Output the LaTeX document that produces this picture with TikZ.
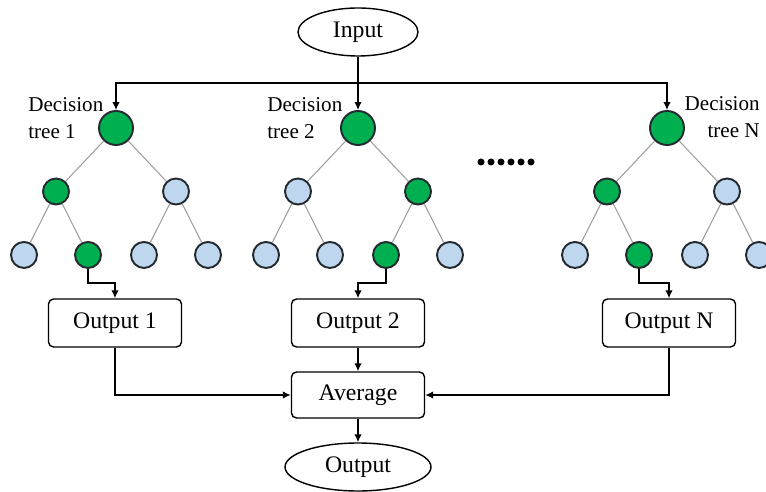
\documentclass[tikz,border=0pt]{standalone}
\usepackage{fontspec}
\setmainfont{Liberation Serif}
\usepackage{tikz}
\usetikzlibrary{shapes,arrows,positioning,shapes.geometric,arrows.meta}
\definecolor{treegreen}{RGB}{0,176,80}
\definecolor{treeblue}{RGB}{190,214,238}
\definecolor{rimgray}{RGB}{35,42,48}

\begin{document}
\begin{tikzpicture}[x=0.02cm, y=-0.02cm, node distance=1.27cm, font=\fontsize{13.5}{16}\selectfont]
    \tikzstyle{root} = [circle, draw=rimgray, line width=1.1pt, fill=treegreen, minimum size=0.68cm, inner sep=0pt]
    \tikzstyle{gnode} = [circle, draw=rimgray, line width=1.1pt, fill=treegreen, minimum size=0.52cm, inner sep=0pt]
    \tikzstyle{bnode} = [circle, draw=rimgray, line width=1.1pt, fill=treeblue, minimum size=0.52cm, inner sep=0pt]
    \tikzstyle{box} = [rectangle, draw, line width=0.8pt, rounded corners=0.1cm, minimum width=2.66cm, minimum height=0.96cm]
    \tikzstyle{io} = [ellipse, draw, line width=0.8pt, minimum height=0.96cm]
    \tikzstyle{tag} = [font=\fontsize{12}{15.4}\selectfont, inner sep=0pt]
    \tikzstyle{edge} = [draw, gray!75, line width=0.6pt]
    \tikzstyle{line} = [draw, line width=0.8pt, -{Latex[length=0.16cm, width=0.15cm]}]

    \useasboundingbox (0,0) rectangle (766,492);

    % Input
    \node [io, minimum width=2.4cm] (input) at (358,32) {Input};

    % Decision tree 1
    \node [root] (r1) at (116,128) {};
    \node [gnode, below of=r1, xshift=-1.2cm] (c11) {};
    \node [bnode, below of=r1, xshift=1.2cm] (c12) {};
    \node [bnode, below of=c11, xshift=-0.64cm] (l11) {};
    \node [gnode, below of=c11, xshift=0.64cm] (l12) {};
    \node [bnode, below of=c12, xshift=-0.64cm] (l13) {};
    \node [bnode, below of=c12, xshift=0.64cm] (l14) {};
    \node [tag, anchor=west, align=left] (tag1) at (28,118) {Decision\\tree 1};

    % Decision tree 2
    \node [root] (r2) at (358,128) {};
    \node [bnode, below of=r2, xshift=-1.2cm] (c21) {};
    \node [gnode, below of=r2, xshift=1.2cm] (c22) {};
    \node [bnode, below of=c21, xshift=-0.64cm] (l21) {};
    \node [bnode, below of=c21, xshift=0.64cm] (l22) {};
    \node [gnode, below of=c22, xshift=-0.64cm] (l23) {};
    \node [bnode, below of=c22, xshift=0.64cm] (l24) {};
    \node [tag, anchor=west, align=left] (tag2) at (267,118) {Decision\\tree 2};

    % Decision tree N
    \node [root] (rN) at (667,128) {};
    \node [gnode, below of=rN, xshift=-1.2cm] (cN1) {};
    \node [bnode, below of=rN, xshift=1.2cm] (cN2) {};
    \node [bnode, below of=cN1, xshift=-0.64cm] (lN1) {};
    \node [gnode, below of=cN1, xshift=0.64cm] (lN2) {};
    \node [bnode, below of=cN2, xshift=-0.64cm] (lN3) {};
    \node [bnode, below of=cN2, xshift=0.64cm] (lN4) {};
    \node [tag, anchor=east, align=right] (tagN) at (760,117) {Decision\\tree N};

    % dots between trees
    \foreach \i in {0,...,5}
        \fill (481+\i*10,162) circle [radius=0.07cm];

    % Outputs
    \node [box] (out1) at (115,323) {Output 1};
    \node [box] (out2) at (358,323) {Output 2};
    \node [box] (outN) at (669,323) {Output N};

    % Average
    \node [box, minimum height=0.92cm] (avg) at (358,395) {Average};

    % Output
    \node [io, minimum width=2.92cm] (output) at (358,467) {Output};

    % Tree edges
    \path [edge] (r1) -- (c11);
    \path [edge] (r1) -- (c12);
    \path [edge] (c11) -- (l11);
    \path [edge] (c11) -- (l12);
    \path [edge] (c12) -- (l13);
    \path [edge] (c12) -- (l14);
    \path [edge] (r2) -- (c21);
    \path [edge] (r2) -- (c22);
    \path [edge] (c21) -- (l21);
    \path [edge] (c21) -- (l22);
    \path [edge] (c22) -- (l23);
    \path [edge] (c22) -- (l24);
    \path [edge] (rN) -- (cN1);
    \path [edge] (rN) -- (cN2);
    \path [edge] (cN1) -- (lN1);
    \path [edge] (cN1) -- (lN2);
    \path [edge] (cN2) -- (lN3);
    \path [edge] (cN2) -- (lN4);

    % Arrows
    \coordinate (bus) at (358,83);
    \coordinate (k1) at (115,283);
    \coordinate (k2) at (358,283);
    \coordinate (kN) at (669,283);
    \path [line] (input) -- (r2);
    \path [line] (bus) -| (r1);
    \path [line] (bus) -| (rN);
    \path [line] (l12) |- (k1) -- (out1);
    \path [line] (l23) |- (k2) -- (out2);
    \path [line] (lN2) |- (kN) -- (outN);
    \path [line] (out1) |- (avg);
    \path [line] (out2) -- (avg);
    \path [line] (outN) |- (avg);
    \path [line] (avg) -- (output);

  \end{tikzpicture}
\end{document}
